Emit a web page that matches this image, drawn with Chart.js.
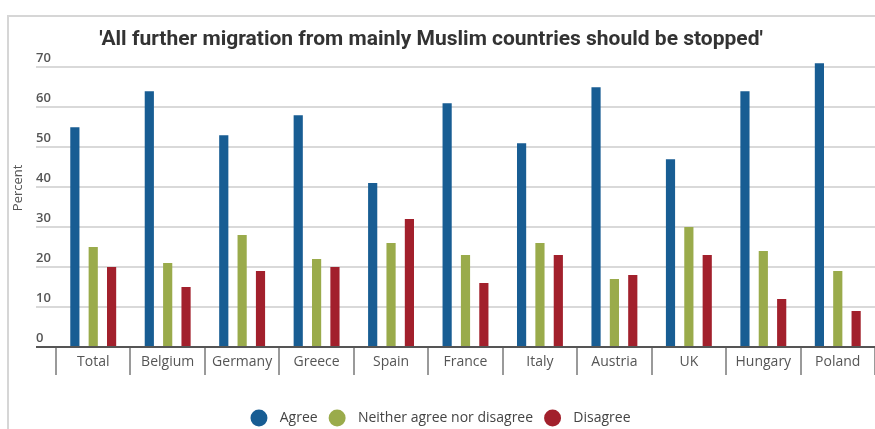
<!DOCTYPE html>
<html>
<head>
<meta charset="utf-8">
<script src="https://cdn.jsdelivr.net/npm/chart.js@4"></script>
<style>
    html, body { margin: 0; padding: 0; background: #fff; }
    #wrap { position: relative; width: 875px; height: 429px; overflow: hidden; }
    #frame { position: absolute; left: 7px; top: 15px; right: -4px; bottom: -4px; border-top: 2px solid #d6d6d6; border-left: 2px solid #d6d6d6; }
    canvas { position: absolute; left: 0; top: 0; }
</style>
</head>
<body>
<div id="wrap">
    <div id="frame"></div>
    <canvas id="ChartCanvas" width="875" height="429"></canvas>
</div>
<script>
// Data
const countries = ['Total', 'Belgium', 'Germany', 'Greece', 'Spain', 'France', 'Italy', 'Austria', 'UK', 'Hungary', 'Poland'];
const agree     = [55, 64, 53, 58, 41, 61, 51, 65, 47, 64, 71];
const neither   = [25, 21, 28, 22, 26, 23, 26, 17, 30, 24, 19];
const disagree  = [20, 15, 19, 20, 32, 16, 23, 18, 23, 12, 9];
const yTicks    = [0, 10, 20, 30, 40, 50, 60, 70];

const chartTitle = "'All further migration from mainly Muslim countries should be stopped'";

Initialize();

function Initialize()
{
    const ctx = document.getElementById('ChartCanvas').getContext('2d');

    new Chart(ctx,
    {
        type: 'bar',
        data:
        {
            labels: countries,
            datasets:
            [
                { label: 'Agree', data: agree, backgroundColor: '#185d93' },
                { label: 'Neither agree nor disagree', data: neither, backgroundColor: '#9aab4b' },
                { label: 'Disagree', data: disagree, backgroundColor: '#a2202c' }
            ]
        },
        options:
        {
            responsive: false,
            animation: false,
            devicePixelRatio: 1,
            categoryPercentage: 0.74,
            barPercentage: 0.5,
            borderWidth: 0,
            layout: { padding: { left: 8, right: 0, top: 0, bottom: -6 } },
            plugins:
            {
                title:
                {
                    display: true,
                    // trailing spaces nudge the centred title a little to the left, as in the picture
                    text: chartTitle + '    ',
                    color: '#333',
                    font: { family: 'Roboto', size: 21, weight: 'bold' },
                    padding: { top: 27, bottom: 7 }
                },
                legend:
                {
                    position: 'bottom',
                    labels:
                    {
                        usePointStyle: true,
                        pointStyle: 'circle',
                        boxWidth: 13,
                        boxHeight: 12,
                        padding: 13,
                        color: '#444',
                        font: { family: 'Open Sans', size: 14 },
                        generateLabels: function(chart)
                        {
                            const items = Chart.defaults.plugins.legend.labels.generateLabels(chart);
                            items.forEach(item => { item.text = '  ' + item.text; item.lineWidth = 0; });
                            return items;
                        }
                    }
                },
                tooltip: { enabled: false }
            },
            scales:
            {
                x:
                {
                    border: { display: false },
                    grid:
                    {
                        offset: true,
                        drawOnChartArea: false,
                        drawTicks: true,
                        tickLength: 28,
                        color: '#9a9a9a',
                        lineWidth: 2
                    },
                    ticks:
                    {
                        color: '#555',
                        font: { family: 'Open Sans', size: 14 },
                        padding: -21,
                        maxRotation: 0
                    },
                    afterFit: function(axis) { axis.height = 51; }
                },
                y:
                {
                    min: 0,
                    max: 72,
                    border: { display: false },
                    afterBuildTicks: function(axis) { axis.ticks = yTicks.map(v => ({ value: v })); },
                    grid:
                    {
                        drawTicks: true,
                        tickLength: 20,
                        lineWidth: 2,
                        color: c => c.tick && c.tick.value === 0 ? '#555' : '#d9d9d9',
                        tickColor: c => c.tick && c.tick.value === 0 ? '#555' : '#d9d9d9'
                    },
                    ticks:
                    {
                        mirror: true,
                        padding: -20,
                        labelOffset: -9,
                        color: '#555',
                        font: { family: 'Open Sans', size: 13, weight: '600' }
                    },
                    title:
                    {
                        display: true,
                        // leading spaces lift the rotated label a bit above the axis middle
                        text: '         Percent',
                        color: '#555',
                        font: { family: 'Open Sans', size: 13 },
                        padding: { top: 2, bottom: 0 }
                    },
                    afterFit: function(axis) { axis.width = 48; }
                }
            }
        }
    });
}
</script>
</body>
</html>
